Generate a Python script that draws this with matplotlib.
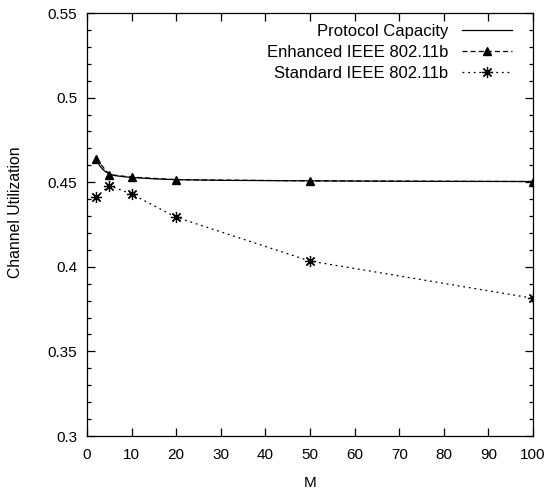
import numpy as np
import matplotlib
matplotlib.use("Agg")
from matplotlib import pyplot as plt
from matplotlib.ticker import MultipleLocator, FuncFormatter

plt.rcParams['font.family'] = ['Liberation Sans', 'DejaVu Sans']

# protocol capacity curve
cap_m = [2, 2.5, 3, 3.5, 4, 5, 6, 8, 10, 15, 20, 30, 50, 75, 100]
cap_u = [0.464, 0.4612, 0.4592, 0.4577, 0.4565, 0.4548, 0.4540, 0.4533, 0.4528,
         0.4520, 0.4515, 0.4511, 0.4508, 0.4505, 0.4504]

# simulated points
m_sim = [2, 5, 10, 20, 50, 100]
enhanced = [0.464, 0.4545, 0.4530, 0.4515, 0.4508, 0.4504]
standard = [0.441, 0.448, 0.443, 0.4293, 0.4034, 0.3814]

fig = plt.figure(figsize=(5.49, 4.9), dpi=100)
ax = fig.add_axes([87/549, 1 - 436/490, 446/549, 423/490])

ax.plot(cap_m, cap_u, color="black", lw=0.9, label="Protocol Capacity")
ax.plot(m_sim, enhanced, color="black", lw=0.9, dashes=(4, 2.5),
        marker="^", ms=6, label="Enhanced IEEE 802.11b")
ax.plot(m_sim, standard, color="black", lw=0.9, dashes=(1.5, 3),
        marker=(8, 2, 0), ms=8, mew=0.9, label="Standard IEEE 802.11b")

ax.set_xlim(0, 100)
ax.set_ylim(0.3, 0.55)
ax.xaxis.set_major_locator(MultipleLocator(10))
ax.yaxis.set_major_locator(MultipleLocator(0.05))
ax.yaxis.set_minor_locator(MultipleLocator(0.01))
ax.yaxis.set_major_formatter(FuncFormatter(lambda v, p: "%g" % round(v, 3)))
ax.tick_params(which="both", direction="in", top=True, right=True,
               labelsize=11, width=0.9)
ax.tick_params(axis="y", pad=7)
ax.tick_params(axis="x", pad=8.5)
ax.tick_params(which="major", length=6)
ax.tick_params(which="minor", length=3)
for s in ax.spines.values():
    s.set_linewidth(0.9)

ax.set_xlabel("M", fontsize=11, labelpad=10.5)
ax.set_ylabel("Channel Utilization", fontsize=11.3)
ax.yaxis.set_label_coords(-0.1435, 0.53)

ax.legend(loc="upper right", bbox_to_anchor=(1.0, 1.0236),
          frameon=False, markerfirst=False, fontsize=12,
          handlelength=3.0, handletextpad=0.84, labelspacing=0.35,
          numpoints=1, borderaxespad=0.86, borderpad=0.4)

fig.savefig("out.png", dpi=100)
